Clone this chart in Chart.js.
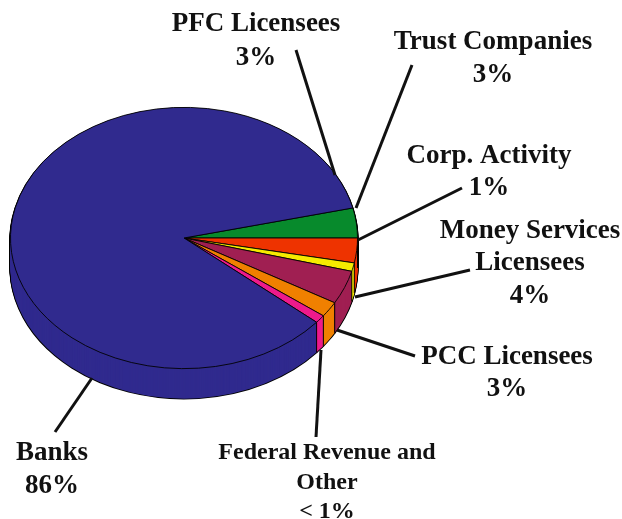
<!DOCTYPE html>
<html>
<head>
<meta charset="utf-8">
<script src="https://cdn.jsdelivr.net/npm/chart.js@4"></script>
<style>
  html, body { margin: 0; padding: 0; background: #fff; }
  canvas { display: block; }
</style>
</head>
<body>
<canvas id="pie" width="622" height="519"></canvas>
<script>
const categories = ['PFC Licensees', 'Trust Companies', 'Corp. Activity', 'Money Services Licensees', 'PCC Licensees', 'Federal Revenue and Other', 'Banks'];
// slice sizes (they differ a little from the printed labels)
const sliceShares = [3.7, 3.05, 1.05, 4.15, 1.9, 1.0, 85.15];
const printedShares = ['3%', '3%', '1%', '4%', '3%', '< 1%', '86%'];
const sliceColors = ['#078a2c', '#ee3300', '#f6ea00', '#a01f52', '#f08000', '#ee1a8c', '#302a8e'];

const TILT = 0.753;
const DEPTH = 30;

// where each label goes, and its leader line
const labelLayout = [
  { lines: ['PFC Licensees', printedShares[0]], x: 256, y: [24, 58], size: 27, leader: [296, 50, 335, 175] },
  { lines: ['Trust Companies', printedShares[1]], x: 493, y: [42, 75], size: 27, leader: [412, 65, 356, 208] },
  { lines: ['Corp. Activity', printedShares[2]], x: 489, y: [156, 188], size: 27, leader: [462, 188, 358, 240] },
  { lines: ['Money Services', 'Licensees', printedShares[3]], x: 530, y: [231, 263, 296], size: 27, leader: [470, 270, 355, 297] },
  { lines: ['PCC Licensees', printedShares[4]], x: 507, y: [357, 389], size: 27, leader: [415, 356, 337, 330] },
  { lines: ['Federal Revenue and', 'Other', printedShares[5]], x: 327, y: [453, 483, 512], size: 24, leader: [316, 437, 321, 350] },
  { lines: ['Banks', printedShares[6]], x: 52, y: [453, 486], size: 27, leader: [55, 432, 92, 378] },
];

function tilt(ctx, arc) {
  ctx.translate(0, arc.y);
  ctx.scale(1, TILT);
  ctx.translate(0, -arc.y);
}

// draws the arcs of the pie once, shifted down, with a given border
function drawLayer(ctx, arcs, shift, borderWidth, borderColor) {
  arcs.forEach(arc => {
    const saved = { w: arc.options.borderWidth, c: arc.options.borderColor };
    arc.options.borderWidth = borderWidth;
    arc.options.borderColor = borderColor;
    ctx.save();
    ctx.translate(0, shift);
    tilt(ctx, arc);
    arc.draw(ctx);
    ctx.restore();
    arc.options.borderWidth = saved.w;
    arc.options.borderColor = saved.c;
  });
}

const tiltedPie = {
  id: 'tiltedPie',
  beforeDatasetsDraw(chart) {
    const ctx = chart.ctx;
    const arcs = chart.getDatasetMeta(0).data;
    for (let d = DEPTH; d > 0; d--) drawLayer(ctx, arcs, d, 2, '#000');
    for (let d = DEPTH; d > 0; d--) drawLayer(ctx, arcs, d, 0, '#000');

    // wall seams under each slice edge on the front of the pie
    ctx.save();
    ctx.strokeStyle = '#000';
    ctx.lineWidth = 1;
    arcs.forEach(arc => {
      const sin = Math.sin(arc.endAngle);
      if (sin <= 0) return;
      const x = arc.x + arc.outerRadius * Math.cos(arc.endAngle);
      const y = arc.y + arc.outerRadius * TILT * sin;
      ctx.beginPath();
      ctx.moveTo(x, y);
      ctx.lineTo(x, y + DEPTH);
      ctx.stroke();
    });
    ctx.restore();

    ctx.save();
    tilt(ctx, arcs[0]);
  },
  afterDatasetsDraw(chart) {
    chart.ctx.restore();
  },
  afterDraw(chart) {
    const ctx = chart.ctx;
    ctx.save();
    ctx.strokeStyle = '#111';
    ctx.lineWidth = 3;
    ctx.fillStyle = '#111';
    ctx.textAlign = 'center';
    ctx.textBaseline = 'middle';
    labelLayout.forEach(label => {
      const [x1, y1, x2, y2] = label.leader;
      ctx.beginPath();
      ctx.moveTo(x1, y1);
      ctx.lineTo(x2, y2);
      ctx.stroke();
      ctx.font = 'bold ' + label.size + 'px "Liberation Serif"';
      label.lines.forEach((line, i) => {
        ctx.fillText(line, label.x, label.y[i]);
      });
    });
    ctx.restore();
  }
};

new Chart(document.getElementById('pie'), {
  type: 'pie',
  data: {
    labels: categories,
    datasets: [{
      data: sliceShares,
      backgroundColor: sliceColors,
      borderColor: '#000',
      borderWidth: 1,
      clip: false,
    }]
  },
  options: {
    responsive: false,
    animation: false,
    rotation: 76.7,
    layout: { padding: { left: 10, right: 264, top: 64, bottom: 107 } },
    plugins: { legend: { display: false }, tooltip: { enabled: false } },
  },
  plugins: [tiltedPie],
});
</script>
</body>
</html>
